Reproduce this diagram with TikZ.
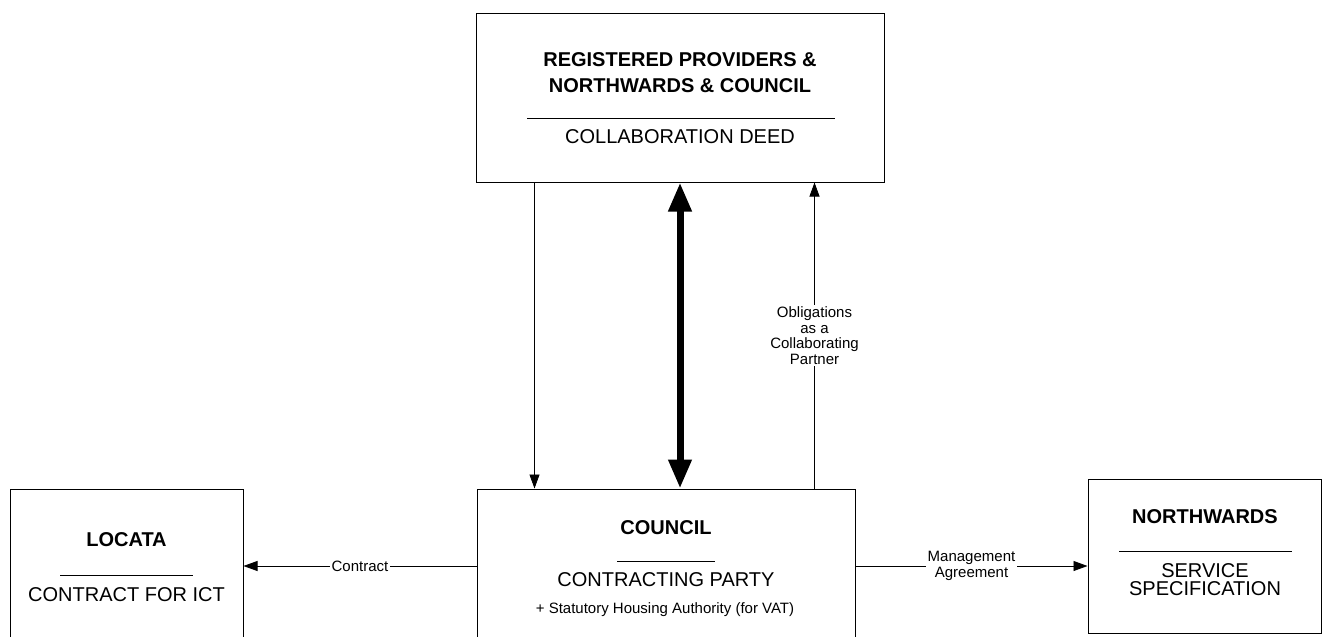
\documentclass[tikz,border=0pt]{standalone}
\usepackage{fontspec}
\setmainfont{Liberation Sans}
\usetikzlibrary{arrows.meta}
\begin{document}
\begin{tikzpicture}[x=1pt,y=-1pt,
  box/.style={draw,line width=1pt,inner sep=0pt},
  big/.style={font=\fontsize{20}{24}\selectfont, inner sep=0pt, anchor=base},
  bigb/.style={font=\fontsize{20}{24}\selectfont\bfseries, inner sep=0pt, anchor=base},
  smalltxt/.style={font=\fontsize{15}{16}\selectfont, inner sep=0pt, anchor=base},
  rulenode/.style={inner sep=0pt},
  lbl/.style={font=\fontsize{15}{15.5}\selectfont, align=center, inner sep=2pt, fill=white},
  thinarrow/.style={line width=0.8pt, -{Triangle[length=14pt,width=10pt]}},
  thickarrow/.style={line width=7pt, {Triangle[length=29pt,width=22pt]}-{Triangle[length=29pt,width=22pt]}}]
\useasboundingbox (0,0) rectangle (1328,637);
\fill[white] (0,0) rectangle (1328,637);

% boxes
\node[box, minimum width=408pt, minimum height=169pt] (top) at (680,97.5) {};
\node[box, minimum width=378pt, minimum height=211pt] (council) at (666,594.5) {};
\node[box, minimum width=233pt, minimum height=211pt] (locata) at (126.5,594.5) {};
\node[box, minimum width=233pt, minimum height=154pt] (north) at (1204.5,556) {};

% top box text
\node[bigb] (t1) at (680,66) {REGISTERED PROVIDERS \&};
\node[bigb] (t2) at (680,92) {NORTHWARDS \& COUNCIL};
\node[rulenode] (t3) at (681,118) {\rule{308pt}{0.7pt}};
\node[big] (t4) at (680,143) {COLLABORATION DEED};

% council text
\node[bigb] (c1) at (666,534) {COUNCIL};
\node[rulenode] (c2) at (666,561) {\rule{98pt}{0.7pt}};
\node[big] (c3) at (666,586) {CONTRACTING PARTY};
\node[smalltxt] (c4) at (665,613) {+ Statutory Housing Authority (for VAT)};

% locata text
\node[bigb] (l1) at (126.5,546) {LOCATA};
\node[rulenode] (l2) at (126.5,575) {\rule{133pt}{0.7pt}};
\node[big] (l3) at (126.5,601) {CONTRACT FOR ICT};

% northwards text
\node[bigb] (n1) at (1205,523) {NORTHWARDS};
\node[rulenode] (n2) at (1205.5,551) {\rule{173pt}{0.7pt}};
\node[big] (n3) at (1205,577) {SERVICE};
\node[big] (n4) at (1205,595) {SPECIFICATION};

% connectors
\draw[thinarrow] ([xshift=59pt]top.south west) -- ([xshift=59pt]top.south west |- council.north);
\draw[thickarrow] (top.south) -- (top.south |- council.north);
\draw[thinarrow] ([xshift=-70pt]top.south east |- council.north) -- ([xshift=-70pt]top.south east)
  node[midway, lbl] {Obligations\\as a\\Collaborating\\Partner};
\draw[thinarrow] ([yshift=28.5pt]council.west) -- ([yshift=28.5pt]locata.east)
  node[midway, lbl] {Contract};
\draw[thinarrow] ([yshift=28.5pt]council.east) -- ([yshift=-10pt]north.west)
  node[midway, lbl] {Management\\Agreement};
\end{tikzpicture}
\end{document}
